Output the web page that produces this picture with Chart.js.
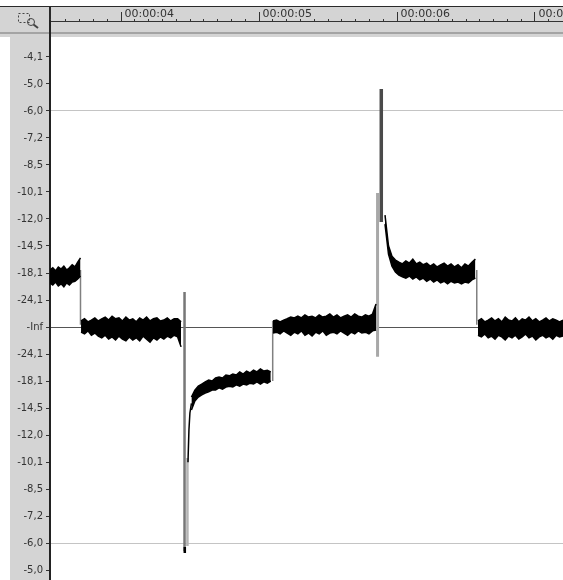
<!DOCTYPE html>
<html>
<head>
<meta charset="utf-8">
<script src="https://cdn.jsdelivr.net/npm/chart.js@4.4.1/dist/chart.umd.min.js"></script>
<style>
  html, body { margin: 0; padding: 0; background: #fff; }
  #wrap { width: 563px; height: 580px; }
</style>
</head>
<body>
<div id="wrap"><canvas id="wave"></canvas></div>
<script>
// Waveform view — amplitude in % of full scale, time in seconds

// --- Tick labels ---
const dbLabels   = ['-Inf', '-24,1', '-18,1', '-14,5', '-12,0', '-10,1', '-8,5', '-7,2', '-6,0', '-5,0', '-4,1'];
const timeTicks  = [4, 5, 6, 7];
const timeLabels = ['00:00:04', '00:00:05', '00:00:06', '00:00:07'];

// --- Envelope of each flat part: [start, end] time, upper and lower edge ---
const seg1Time = [3.485, 3.706];
const seg1Hi = [13.2, 13.7, 13.0, 13.9, 13.4, 14.1, 13.2, 13.7, 14.4, 13.9, 15.0, 16.0];
const seg1Lo = [10.2, 9.7, 10.4, 9.5, 10.0, 9.3, 10.2, 9.7, 10.4, 10.6, 11.1, 11.8];

const seg2Time = [3.710, 4.435];
const seg2Hi = [1.4, 1.9, 1.2, 1.6, 2.1, 1.4, 1.9, 2.3, 1.6, 2.5, 1.9, 2.1, 1.4, 2.3, 1.6,
                1.9, 1.2, 2.1, 1.6, 2.3, 1.4, 1.9, 2.1, 1.4, 1.6, 2.1, 1.4, 1.9, 1.9, 1.2];
const seg2Lo = [-1.2, -1.6, -0.9, -1.9, -1.4, -2.1, -2.5, -1.9, -2.8, -2.3, -3.0, -2.1, -2.8, -3.2, -2.3,
                -3.0, -2.5, -3.2, -2.1, -2.8, -3.5, -2.5, -3.0, -2.3, -2.8, -2.1, -2.5, -1.9, -2.3, -4.6];

const seg3Time = [4.510, 5.085];
const seg3Hi = [-16.2, -14.6, -13.7, -13.2, -12.7, -12.3, -12.5, -11.8, -11.6, -11.8, -11.1, -11.3,
                -10.9, -11.1, -10.4, -10.9, -10.2, -10.6, -10.0, -10.4, -9.7, -10.2, -10.0, -10.4];
const seg3Lo = [-19.2, -17.1, -16.2, -15.7, -15.3, -15.0, -14.6, -14.6, -14.1, -14.4, -13.9, -13.7,
                -13.9, -13.4, -13.7, -13.2, -13.4, -13.0, -13.2, -12.7, -13.2, -12.7, -13.0, -12.5];

const seg4Time = [5.101, 5.848];
const seg4Hi = [1.4, 1.6, 1.2, 1.6, 1.9, 2.3, 2.1, 2.5, 2.1, 2.8, 2.3, 2.5, 2.1, 2.8, 2.3,
                2.5, 3.0, 2.3, 2.8, 2.1, 2.5, 2.8, 2.3, 3.0, 2.5, 2.3, 2.8, 2.5, 3.0, 5.3];
const seg4Lo = [-1.4, -1.2, -1.6, -0.9, -1.4, -1.9, -1.2, -1.6, -0.9, -1.9, -1.4, -2.1, -1.2, -1.6, -0.9,
                -1.9, -1.4, -1.2, -1.6, -0.9, -1.4, -1.9, -1.2, -1.6, -0.9, -1.4, -1.2, -1.6, -0.9, -0.7];

const seg5Time = [5.913, 6.568];
const seg5Hi = [25.9, 18.8, 16.4, 15.5, 15.0, 14.6, 15.3, 14.8, 15.7, 14.6, 15.0, 14.4, 14.8, 14.1,
                14.6, 13.9, 14.4, 14.8, 14.1, 14.6, 13.9, 14.4, 13.7, 14.6, 14.1, 15.0, 15.7];
const seg5Lo = [23.8, 16.9, 14.1, 12.7, 12.0, 11.6, 11.3, 11.8, 11.1, 11.6, 10.9, 11.3, 10.6, 11.1,
                10.4, 10.9, 10.2, 10.6, 10.0, 10.6, 10.2, 10.4, 10.0, 10.4, 10.2, 10.9, 11.3];

const seg6Time = [6.587, 7.203];
const seg6Hi = [1.4, 1.9, 1.2, 1.6, 2.1, 1.4, 1.9, 1.2, 2.3, 1.6, 1.4, 2.1, 1.2,
                1.9, 1.6, 2.3, 1.4, 1.9, 1.2, 1.6, 2.1, 1.4, 1.9, 1.6, 1.2, 1.6];
const seg6Lo = [-1.9, -2.3, -1.6, -2.5, -2.1, -2.8, -1.9, -2.3, -3.0, -2.1, -2.5, -1.9, -2.8,
                -2.3, -1.6, -2.5, -2.1, -3.0, -2.3, -1.9, -2.5, -2.1, -2.8, -1.9, -2.3, -2.1];

// --- Steps between the flat parts ---
const stepTime = [3.706, 5.099, 6.578];
const stepFrom = [13.2, -12.5, 13.2];
const stepTo   = [0.5, 1.4, 0.5];

// --- Spikes ---
const negSpikeTime = 4.460, negSpike = [8.1, -51.9];
const negShadeTime = 4.481, negShade = [-30.3, -50.7];
const negTipTime   = 4.462, negTip   = [-50.9, -52.3];
const riseTime = [4.485, 4.492, 4.499, 4.510];
const riseAmp  = [-31.3, -23.8, -19.9, -17.7];
const posSpikeTime = 5.886, posSpike = [55.1, 24.3];
const posShadeTime = 5.859, posShade = [31.0, -6.9];

// --- Datasets ---
function band(time, hi, lo) {
  const step = (time[1] - time[0]) / (hi.length - 1);
  const pts = arr => arr.map((a, i) => ({ x: time[0] + i * step, y: a }));
  return [
    { data: pts(hi), borderColor: '#000', borderWidth: 1.5, fill: false },
    { data: pts(lo), borderColor: '#000', borderWidth: 1.5, backgroundColor: '#000', fill: '-1' }
  ];
}

function vline(t, pair, color, width) {
  return { data: pair.map(a => ({ x: t, y: a })), borderColor: color, borderWidth: width, fill: false };
}

const datasets = [
  ...band(seg1Time, seg1Hi, seg1Lo),
  ...band(seg2Time, seg2Hi, seg2Lo),
  ...band(seg3Time, seg3Hi, seg3Lo),
  ...band(seg4Time, seg4Hi, seg4Lo),
  ...band(seg5Time, seg5Hi, seg5Lo),
  ...band(seg6Time, seg6Hi, seg6Lo),
  { data: riseTime.map((t, i) => ({ x: t, y: riseAmp[i] })), borderColor: '#000', borderWidth: 1.5, fill: false },
  vline(negTipTime, negTip, '#000', 2.5),
  vline(negSpikeTime, negSpike, '#777', 2.5),
  vline(negShadeTime, negShade, '#b4b4b4', 2.5),
  vline(posSpikeTime, posSpike, '#4a4a4a', 3.5),
  vline(posShadeTime, posShade, '#a8a8a8', 3),
  {
    data: stepTime.flatMap((t, i) => [{ x: t, y: stepFrom[i] }, { x: t, y: stepTo[i] }, { x: t, y: null }]),
    borderColor: '#808080', borderWidth: 1.5, fill: false
  }
];

// --- Grey panels (ruler and level strip) ---
const panelBg = {
  id: 'panelBg',
  beforeDraw(chart) {
    const ctx = chart.ctx, w = chart.width, h = chart.height;
    ctx.save();
    ctx.fillStyle = '#fff';
    ctx.fillRect(0, 0, w, h);
    ctx.fillStyle = '#d4d4d4';
    ctx.fillRect(0, 7, w, 30);
    ctx.fillRect(10, 37, 40, h - 37);
    ctx.fillStyle = '#a4a4a4';
    ctx.fillRect(0, 32, w, 2);
    ctx.fillStyle = '#2a2a2a';
    ctx.fillRect(0, 6, w, 1);
    ctx.fillRect(49, 6, 2, 16);
    // zoom icon
    ctx.strokeStyle = '#444';
    ctx.lineWidth = 1;
    ctx.setLineDash([2, 2]);
    ctx.strokeRect(18.5, 13.5, 11, 9);
    ctx.setLineDash([]);
    ctx.beginPath();
    ctx.arc(31, 22, 3.5, 0, Math.PI * 2);
    ctx.stroke();
    ctx.lineWidth = 2;
    ctx.beginPath();
    ctx.moveTo(33.5, 24.5);
    ctx.lineTo(38, 28);
    ctx.stroke();
    ctx.restore();
  }
};

const isMajor = v => timeTicks.some(s => Math.abs(s - v) < 1e-6);

new Chart(document.getElementById('wave'), {
  type: 'line',
  data: { datasets },
  plugins: [panelBg],
  options: {
    responsive: true,
    maintainAspectRatio: false,
    animation: false,
    events: [],
    layout: { padding: 0 },
    elements: { point: { radius: 0 }, line: { tension: 0 } },
    plugins: { legend: { display: false }, tooltip: { enabled: false } },
    scales: {
      x: {
        type: 'linear',
        position: 'top',
        min: 3.485,
        max: 7.203,
        afterFit: s => { s.height = 21; s.paddingLeft = 0; s.paddingRight = 0; s.paddingTop = 0; s.paddingBottom = 0; },
        ticks: {
          stepSize: 0.1,
          autoSkip: false,
          minRotation: 0,
          maxRotation: 0,
          align: 'start',
          padding: -9,
          color: '#333',
          font: { family: 'DejaVu Sans', size: 11 },
          callback: v => {
            const i = timeTicks.findIndex(s => Math.abs(s - v) < 1e-6);
            return i < 0 ? '' : ' ' + timeLabels[i];
          }
        },
        grid: {
          drawOnChartArea: false,
          tickLength: 9,
          tickColor: '#333',
          tickWidth: 1,
          tickBorderDash: ctx => isMajor(ctx.tick.value) ? [] : [0, 7, 2]
        },
        border: { color: '#333', width: 1 }
      },
      y: {
        type: 'linear',
        min: -58.56,
        max: 70.83,
        afterFit: s => { s.width = 50; s.paddingTop = 0; s.paddingBottom = 0; s.paddingLeft = 0; s.paddingRight = 0; },
        afterBuildTicks: s => { s.ticks = s.ticks.filter(t => t.value < 65); },
        ticks: {
          stepSize: 6.25,
          includeBounds: false,
          autoSkip: false,
          padding: 3,
          color: '#333',
          font: { family: 'DejaVu Sans', size: 10 },
          callback: v => dbLabels[Math.round(Math.abs(v) / 6.25)]
        },
        grid: {
          tickLength: 4,
          tickColor: '#333',
          lineWidth: 1,
          color: ctx => {
            const v = Math.round(ctx.tick.value * 100) / 100;
            if (v === 0) return '#555';
            if (Math.abs(v) === 50) return '#c4c4c4';
            return 'rgba(0,0,0,0)';
          }
        },
        border: { color: '#222', width: 2 }
      }
    }
  }
});
</script>
</body>
</html>
